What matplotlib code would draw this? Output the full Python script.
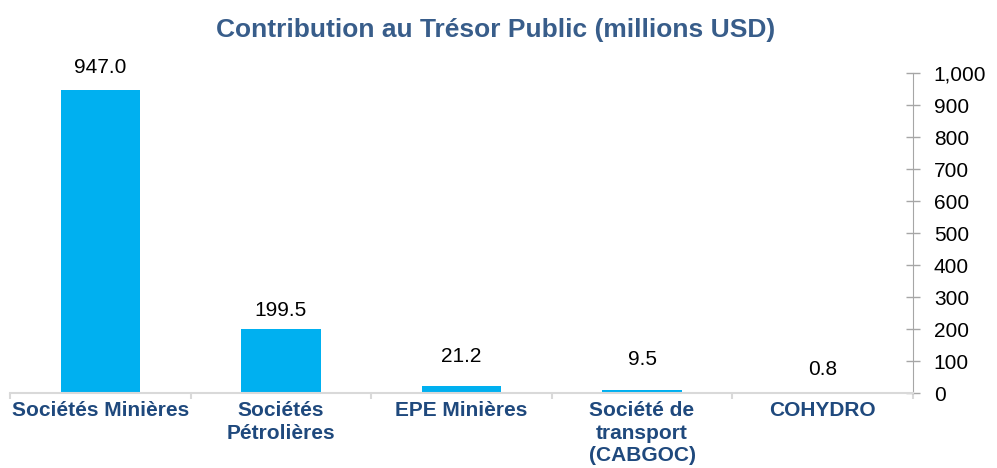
import matplotlib
matplotlib.use("Agg")
import matplotlib.pyplot as plt

plt.rcParams['font.family'] = ['Liberation Sans', 'DejaVu Sans']

# Data
categories = ["Sociétés Minières", "Sociétés\nPétrolières", "EPE Minières",
              "Société de\ntransport\n(CABGOC)", "COHYDRO"]
values = [947.0, 199.5, 21.2, 9.5, 0.8]
label_offsets = [9, 7, 15, 15, 10]  # points above bar top

fig = plt.figure(figsize=(9.97, 4.68), dpi=100)
ax = fig.add_axes([0.010, 0.160, 0.9057, 0.684])

x = list(range(len(categories)))
ax.bar(x, values, width=0.44, color='#00B0F0', zorder=2)

for xi, v, off in zip(x, values, label_offsets):
    ax.annotate(f"{v:.1f}", (xi, v), xytext=(0, off), textcoords='offset points',
                ha='center', va='bottom', fontsize=15, color='black')

ax.set_xlim(-0.5, len(categories) - 0.5)
ax.set_ylim(0, 1000)

# right y axis
ax.yaxis.tick_right()
ax.set_yticks(range(0, 1001, 100))
ax.set_yticklabels([f"{t:,}" for t in range(0, 1001, 100)])
ax.tick_params(axis='y', direction='inout', length=10, width=1, color='#a6a6a6',
               labelsize=15, pad=10, labelcolor='black')

# x axis: labels at centres, ticks at boundaries
ax.set_xticks(x)
ax.set_xticklabels(categories, fontsize=15, fontweight='bold', color='#1F497D',
                   linespacing=1.22)
ax.tick_params(axis='x', which='major', length=0, pad=6)
ax.set_xticks([i - 0.5 for i in range(len(categories) + 1)], minor=True)
ax.tick_params(axis='x', which='minor', direction='out', length=4, width=1.5,
               color='#d9d9d9')

for s in ['top', 'left']:
    ax.spines[s].set_visible(False)
ax.spines['right'].set_color('#a6a6a6')
ax.spines['bottom'].set_color('#d9d9d9')
ax.spines['bottom'].set_linewidth(1.5)

fig.text(0.497, 0.936, "Contribution au Trésor Public (millions USD)", ha='center',
         va='center', fontsize=19, fontweight='bold', color='#385D8A')

fig.savefig("out.png", dpi=100)
